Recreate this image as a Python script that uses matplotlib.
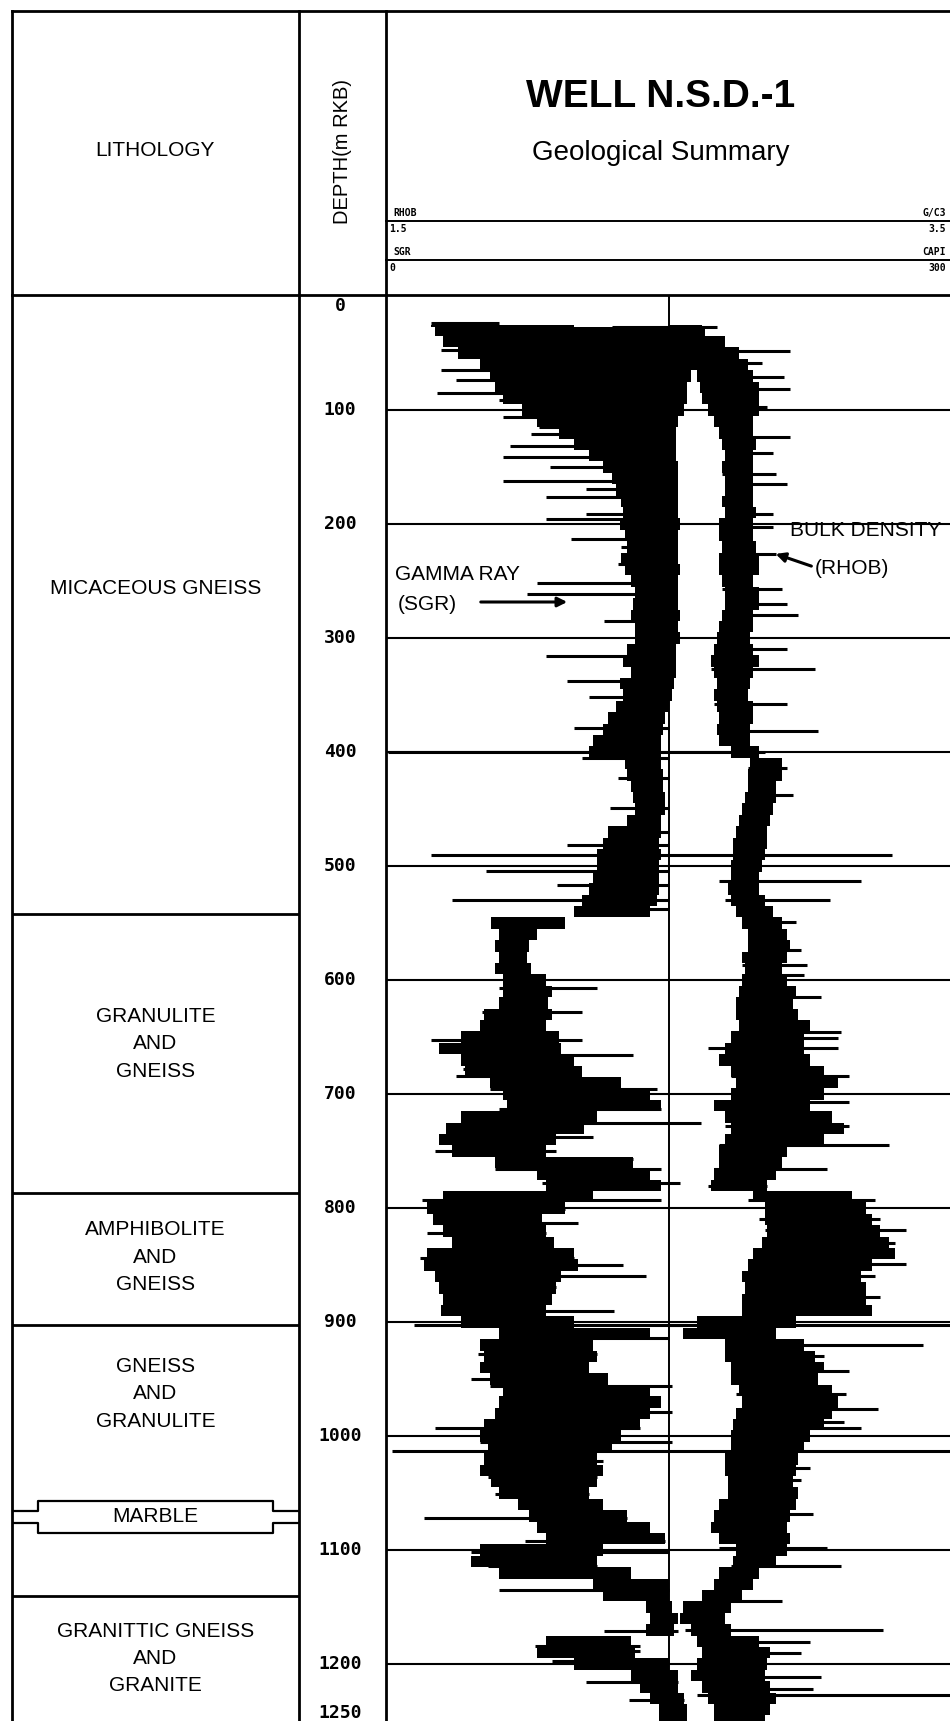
import matplotlib
matplotlib.use("Agg")
import matplotlib.pyplot as plt

DEPTH = [25] + list(range(30, 1251, 10))

GR_LEFT = [24, 26, 30, 38, 50, 55, 58, 62, 72, 80,
           92, 100, 108, 115, 120, 122, 125, 126, 124, 127,
           128, 125, 127, 130, 132, 131, 130, 132, 132, 128,
           126, 130, 124, 126, 122, 118, 115, 110, 108, 127,
           128, 130, 131, 132, 128, 118, 115, 112, 112, 110,
           108, 104, 100, 56, 60, 58, 60, 58, 62, 62,
           60, 52, 50, 40, 28, 40, 42, 55, 62, 64,
           40, 32, 28, 35, 58, 80, 85, 30, 22, 25,
           30, 35, 22, 20, 26, 28, 30, 29, 40, 60,
           50, 52, 50, 55, 62, 60, 58, 52, 50, 54,
           52, 50, 56, 60, 70, 76, 80, 85, 50, 45,
           60, 110, 115, 138, 140, 138, 85, 80, 100, 130,
           135, 140, 145, 145]
GR_RIGHT = [100, 160, 165, 165, 162, 162, 160, 160, 158, 155,
            154, 154, 154, 155, 155, 155, 155, 155, 156, 155,
            155, 155, 156, 155, 155, 155, 156, 155, 156, 154,
            154, 154, 153, 152, 150, 148, 147, 146, 146, 146,
            147, 147, 148, 148, 146, 146, 145, 146, 145, 145,
            145, 144, 140, 95, 80, 76, 75, 77, 85, 88,
            86, 88, 85, 92, 93, 100, 104, 125, 140, 146,
            112, 105, 90, 85, 131, 140, 146, 110, 95, 83,
            85, 89, 100, 102, 93, 90, 88, 85, 100, 140,
            110, 112, 108, 118, 140, 146, 140, 135, 125, 120,
            112, 115, 112, 108, 115, 128, 140, 148, 115, 112,
            130, 150, 150, 152, 155, 153, 130, 132, 150, 155,
            155, 158, 160, 160]

RHOB_LEFT = [2.50, 2.50, 2.52, 2.55, 2.58, 2.60, 2.61, 2.62, 2.64, 2.66,
             2.68, 2.69, 2.70, 2.69, 2.70, 2.70, 2.69, 2.70, 2.68, 2.68,
             2.69, 2.68, 2.68, 2.69, 2.70, 2.70, 2.69, 2.68, 2.67, 2.66,
             2.65, 2.66, 2.67, 2.66, 2.67, 2.68, 2.67, 2.68, 2.72, 2.79,
             2.78, 2.78, 2.77, 2.76, 2.75, 2.74, 2.73, 2.73, 2.72, 2.72,
             2.71, 2.72, 2.74, 2.76, 2.78, 2.78, 2.76, 2.77, 2.76, 2.75,
             2.74, 2.74, 2.75, 2.72, 2.70, 2.68, 2.72, 2.74, 2.72, 2.66,
             2.70, 2.72, 2.70, 2.68, 2.68, 2.66, 2.65, 2.80, 2.84, 2.84,
             2.85, 2.83, 2.80, 2.78, 2.76, 2.77, 2.76, 2.76, 2.60, 2.55,
             2.70, 2.70, 2.72, 2.72, 2.75, 2.76, 2.74, 2.73, 2.72, 2.72,
             2.70, 2.70, 2.71, 2.71, 2.68, 2.66, 2.65, 2.68, 2.74, 2.73,
             2.68, 2.66, 2.62, 2.55, 2.54, 2.58, 2.60, 2.62, 2.60, 2.58,
             2.62, 2.64, 2.66, 2.66]
RHOB_RIGHT = [2.62, 2.63, 2.70, 2.75, 2.78, 2.80, 2.82, 2.82, 2.82, 2.80,
              2.80, 2.81, 2.80, 2.80, 2.80, 2.80, 2.80, 2.81, 2.80, 2.80,
              2.81, 2.82, 2.82, 2.80, 2.82, 2.82, 2.80, 2.80, 2.79, 2.80,
              2.82, 2.80, 2.79, 2.78, 2.80, 2.80, 2.79, 2.79, 2.82, 2.90,
              2.90, 2.88, 2.88, 2.87, 2.86, 2.85, 2.85, 2.84, 2.83, 2.82,
              2.82, 2.84, 2.87, 2.90, 2.92, 2.93, 2.92, 2.90, 2.92, 2.95,
              2.94, 2.96, 3.00, 2.98, 2.98, 3.00, 3.05, 3.10, 3.05, 3.00,
              3.08, 3.12, 3.05, 2.92, 2.90, 2.88, 2.85, 3.15, 3.20, 3.22,
              3.25, 3.28, 3.30, 3.22, 3.18, 3.20, 3.20, 3.22, 2.95, 2.88,
              2.98, 3.02, 3.05, 3.03, 3.08, 3.10, 3.08, 3.05, 3.00, 2.98,
              2.96, 2.95, 2.94, 2.96, 2.95, 2.93, 2.92, 2.93, 2.92, 2.88,
              2.82, 2.80, 2.76, 2.72, 2.70, 2.72, 2.82, 2.86, 2.85, 2.84,
              2.86, 2.88, 2.86, 2.84]

# pics (spikes) du gamma ray : profondeur, bout gauche, bout droit (API)
GR_SPK_D = [24, 27, 33, 40, 47, 56, 65, 74, 85, 91, 106, 115, 121, 132, 141, 150, 162, 169,
            176, 191, 196, 213, 220, 235, 252, 261, 285, 316, 338, 352, 379, 400, 405, 423,
            449, 470, 482, 490, 504, 517, 530, 538, 607, 628, 653, 666, 678, 684, 696, 713,
            725, 738, 750, 757, 766, 778, 793, 801, 813, 822, 844, 850, 860, 869, 890, 903,
            914, 928, 950, 956, 979, 993, 1005, 1013, 1022, 1036, 1051, 1072, 1092, 1102,
            1114, 1135, 1171, 1184, 1189, 1197, 1216, 1232]
GR_SPK_L = [24, 120, 56, 30, 29, 51, 29, 37, 27, 60, 62, 81, 77, 66, 62, 87, 62, 106,
            85, 106, 85, 98, 125, 123, 80, 75, 116, 85, 96, 108, 100, 1, 104, 123,
            119, 119, 96, 24, 53, 91, 35, 102, 60, 51, 24, 40, 41, 37, 55, 60,
            40, 30, 26, 58, 58, 83, 19, 22, 25, 22, 18, 20, 26, 28, 29, 15,
            74, 49, 45, 55, 60, 26, 50, 3, 53, 54, 58, 20, 74, 45,
            54, 60, 116, 79, 95, 88, 106, 129]
GR_SPK_R = [60, 168, 169, 150, 150, 150, 150, 150, 150, 150, 150, 150, 150, 150, 150, 150, 150, 150,
            150, 150, 150, 150, 150, 150, 150, 150, 150, 150, 150, 150, 150, 150, 150, 150,
            150, 150, 150, 150, 150, 150, 150, 150, 112, 104, 104, 131, 100, 100, 144, 146,
            167, 110, 90, 131, 146, 156, 146, 95, 102, 85, 100, 126, 138, 90, 121, 160,
            150, 112, 112, 152, 152, 135, 152, 150, 115, 112, 108, 128, 148, 150,
            112, 150, 155, 135, 135, 150, 155, 158]

# pics de la densité (g/cm3)
RHOB_SPK_D = [27, 48, 59, 71, 82, 97, 124, 138, 156, 165, 191, 203, 226, 257, 270, 280, 310,
              327, 358, 382, 400, 414, 438, 490, 513, 530, 549, 574, 587, 596, 615, 646, 651,
              660, 684, 707, 728, 745, 766, 781, 793, 810, 819, 831, 849, 860, 878, 903, 920,
              930, 943, 963, 976, 988, 993, 1013, 1028, 1039, 1068, 1098, 1114, 1145, 1170,
              1181, 1190, 1211, 1222, 1227]
RHOB_SPK_L = [2.50, 2.55, 2.60, 2.62, 2.63, 2.64, 2.69, 2.70, 2.69, 2.70, 2.70, 2.68, 2.69, 2.69,
              2.70, 2.69, 2.66, 2.65, 2.66, 2.67, 2.50, 2.78, 2.77, 2.50, 2.68, 2.70, 2.76, 2.78,
              2.76, 2.77, 2.75, 2.72, 2.72, 2.64, 2.72, 2.70, 2.70, 2.68, 2.66, 2.64, 2.78, 2.82,
              2.84, 2.83, 2.78, 2.76, 2.76, 2.50, 2.70, 2.70, 2.72, 2.74, 2.75, 2.73, 2.73, 2.50,
              2.70, 2.71, 2.66, 2.68, 2.72, 2.62, 2.56, 2.60, 2.62, 2.58, 2.62, 2.60]
RHOB_SPK_R = [2.67, 2.93, 2.83, 2.91, 2.93, 2.85, 2.93, 2.87, 2.88, 2.92, 2.87, 2.87, 2.88, 2.90,
              2.92, 2.96, 2.92, 3.02, 2.92, 3.03, 2.84, 2.92, 2.94, 3.29, 3.18, 3.07, 2.95, 2.97,
              2.99, 2.98, 3.04, 3.11, 3.10, 3.10, 3.14, 3.14, 3.14, 3.28, 3.06, 2.85, 3.23, 3.25,
              3.34, 3.30, 3.34, 3.23, 3.25, 3.55, 3.40, 3.05, 3.14, 3.13, 3.24, 3.12, 3.18, 3.55,
              3.00, 2.97, 3.01, 3.06, 3.11, 2.90, 3.26, 3.00, 2.97, 3.04, 3.01, 3.55]

# lithologie
LITH_TOPS = [542, 787, 903, 1140]
LITH_LABELS = ["MICACEOUS GNEISS", "GRANULITE\nAND\nGNEISS", "AMPHIBOLITE\nAND\nGNEISS",
               "GNEISS\nAND\nGRANULITE", "GRANITTIC GNEISS\nAND\nGRANITE"]
LITH_LABEL_DEPTH = [257, 656, 843, 963, 1195]
MARBLE_TOP, MARBLE_BASE = 1066, 1076
DEPTH_TICKS = [100, 200, 300, 400, 500, 600, 700, 800, 900, 1000, 1100, 1200]

W, H = 950, 1721
fig = plt.figure(figsize=(W / 100, H / 100), dpi=100)
fig.patch.set_facecolor('white')


def box(x0, y0, x1, y1):
    return [x0 / W, 1 - y1 / H, (x1 - x0) / W, (y1 - y0) / H]


# cadre général (pixels)
bg = fig.add_axes([0, 0, 1, 1])
bg.set_xlim(0, W)
bg.set_ylim(H, 0)
bg.axis('off')
lw_b = 2.0
bg.plot([12, W], [11, 11], color='black', lw=lw_b)
bg.plot([12, W], [295, 295], color='black', lw=lw_b)
for x in [12, 299, 386]:
    bg.plot([x, x], [11, H], color='black', lw=lw_b)

sans = 'Liberation Sans'
bg.text(155, 151, "LITHOLOGY", ha='center', va='center', fontsize=15, family=sans)
bg.text(342, 151, "DEPTH(m RKB)", ha='center', va='center', fontsize=14.5, family=sans, rotation=90)
bg.text(661, 97, "WELL N.S.D.-1", ha='center', va='center', fontsize=28, family=sans, weight='bold')
bg.text(661, 153, "Geological Summary", ha='center', va='center', fontsize=20, family=sans)

# échelles des courbes
mono = 'DejaVu Sans Mono'
for y, lab_l, lab_r, v_l, v_r in [(221, "RHOB", "G/C3", "1.5", "3.5"), (260, "SGR", "CAPI", "0", "300")]:
    bg.plot([386, W], [y, y], color='black', lw=1.4)
    bg.text(393, y - 3, lab_l, ha='left', va='bottom', fontsize=7, family=mono, weight='bold')
    bg.text(946, y - 3, lab_r, ha='right', va='bottom', fontsize=7, family=mono, weight='bold')
    bg.text(389, y + 3, v_l, ha='left', va='top', fontsize=7, family=mono, weight='bold')
    bg.text(946, y + 3, v_r, ha='right', va='top', fontsize=7, family=mono, weight='bold')

# colonne lithologie
lith = fig.add_axes(box(12, 296, 299, 1721))
lith.set_xlim(0, 1)
lith.set_ylim(1250, 0)
lith.axis('off')
for d in LITH_TOPS:
    lith.plot([0, 1], [d, d], color='black', lw=lw_b)
for lab, d in zip(LITH_LABELS, LITH_LABEL_DEPTH):
    lith.text(0.5, d, lab, ha='center', va='center', fontsize=15, family=sans, linespacing=1.55)

# banc de marbre (encadré)
bx0, bx1 = 0.09, 0.91
btop, bbot = MARBLE_TOP - 9, MARBLE_BASE + 9
lith.plot([0, bx0, bx0, bx1, bx1, 1], [MARBLE_TOP, MARBLE_TOP, btop, btop, MARBLE_TOP, MARBLE_TOP],
          color='black', lw=1.6)
lith.plot([0, bx0, bx0, bx1, bx1, 1], [MARBLE_BASE, MARBLE_BASE, bbot, bbot, MARBLE_BASE, MARBLE_BASE],
          color='black', lw=1.6)
lith.text(0.5, (MARBLE_TOP + MARBLE_BASE) / 2, "MARBLE", ha='center', va='center', fontsize=15, family=sans)

# colonne profondeur
dep = fig.add_axes(box(299, 296, 386, 1721))
dep.set_xlim(0, 1)
dep.set_ylim(1250, 0)
dep.axis('off')
for d in DEPTH_TICKS:
    dep.text(0.47, d, str(d), ha='center', va='center', fontsize=13, family=mono, weight='bold')
dep.text(0.47, 9, "0", ha='center', va='center', fontsize=13, family=mono, weight='bold')
dep.text(0.47, 1243, "1250", ha='center', va='center', fontsize=13, family=mono, weight='bold')

# piste des diagraphies
gr = fig.add_axes(box(386, 296, 951, 1721))
gr.set_xlim(0, 300)
gr.set_ylim(1250, 0)
gr.axis('off')
for d in DEPTH_TICKS:
    gr.axhline(d, color='black', lw=1.5)
gr.axvline(150, color='black', lw=1.4)
gr.fill_betweenx(DEPTH, GR_LEFT, GR_RIGHT, step='mid', color='black', lw=0)
gr.hlines(GR_SPK_D, GR_SPK_L, GR_SPK_R, color='black', lw=2.2)

rh = gr.twiny()
rh.set_xlim(1.5, 3.5)
rh.set_ylim(1250, 0)
rh.axis('off')
rh.fill_betweenx(DEPTH, RHOB_LEFT, RHOB_RIGHT, step='mid', color='black', lw=0)
rh.hlines(RHOB_SPK_D, RHOB_SPK_L, RHOB_SPK_R, color='black', lw=2.2)

# annotations
bg.text(790, 531, "BULK DENSITY", ha='left', va='center', fontsize=15, family=sans)
bg.text(815, 568, "(RHOB)", ha='left', va='center', fontsize=15, family=sans)
bg.annotate("", xy=(773, 553), xytext=(814, 567),
            arrowprops=dict(arrowstyle='-|>', color='black', lw=2.2, mutation_scale=14))
bg.text(395, 574, "GAMMA RAY", ha='left', va='center', fontsize=15, family=sans)
bg.text(398, 604, "(SGR)", ha='left', va='center', fontsize=15, family=sans)
bg.annotate("", xy=(570, 602), xytext=(478, 602),
            arrowprops=dict(arrowstyle='-|>', color='black', lw=2.2, mutation_scale=14))

fig.savefig("out.png", dpi=100, facecolor='white')
